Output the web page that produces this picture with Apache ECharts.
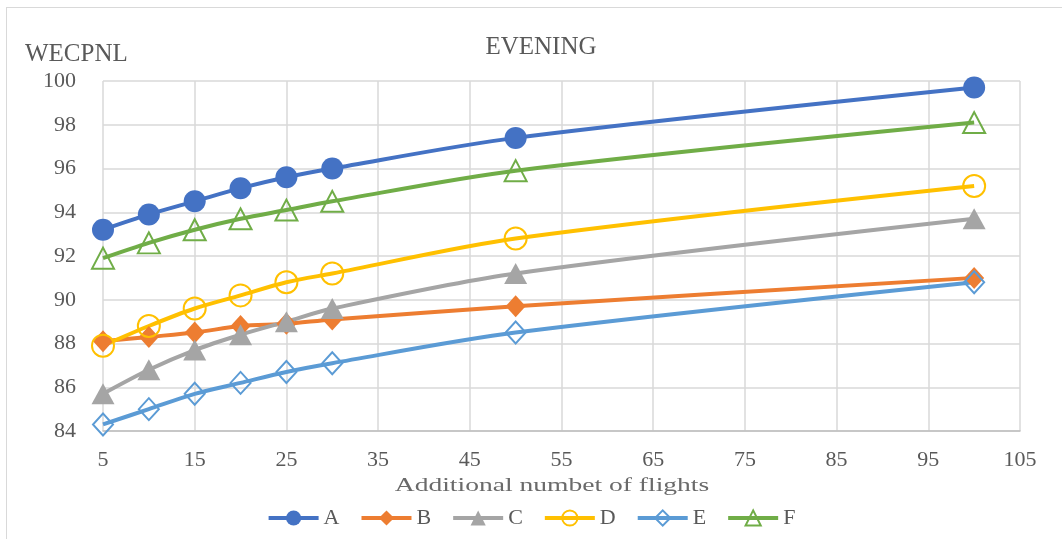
<!DOCTYPE html>
<html>
<head>
<meta charset="utf-8">
<script src="https://cdn.jsdelivr.net/npm/echarts@6/dist/echarts.min.js"></script>
<style>
  html, body { margin: 0; padding: 0; background: #fff; }
  #frame { position: absolute; left: 6px; top: 7px; width: 1100px; height: 600px; border-left: 1.5px solid #d9d9d9; border-top: 1.5px solid #d9d9d9; }
  #chart { position: absolute; left: 0; top: 0; width: 1062px; height: 539px; }
</style>
</head>
<body>
<div id="frame"></div>
<div id="chart"></div>
<script>
// Additional number of flights (x) and WECPNL noise level per scenario
const flights = [5, 10, 15, 20, 25, 30, 50, 100];
const seriesA = [93.2, 93.9, 94.5, 95.1, 95.6, 96.0, 97.4, 99.7];
const seriesB = [88.1, 88.3, 88.5, 88.8, 88.9, 89.1, 89.7, 91.0];
const seriesC = [85.7, 86.8, 87.7, 88.4, 89.0, 89.6, 91.2, 93.7];
const seriesD = [87.9, 88.8, 89.6, 90.2, 90.8, 91.2, 92.8, 95.2];
const seriesE = [84.3, 85.0, 85.7, 86.2, 86.7, 87.1, 88.5, 90.8];
const seriesF = [91.9, 92.6, 93.2, 93.7, 94.1, 94.5, 95.9, 98.1];

const names = ['A', 'B', 'C', 'D', 'E', 'F'];
const values = [seriesA, seriesB, seriesC, seriesD, seriesE, seriesF];
const colors = ['#4472C4', '#ED7D31', '#A5A5A5', '#FFC000', '#5B9BD5', '#70AD47'];
const symbols = ['circle', 'diamond', 'triangle', 'circle', 'diamond', 'triangle'];
const hollow = [false, false, false, true, true, true];
const sizes = [22, [20, 22], [23, 21], 22, [20, 22], [22, 21]];

const serif = "'Liberation Serif', 'Times New Roman', serif";

const chart = echarts.init(document.getElementById('chart'), null, { renderer: 'canvas' });

const series = names.map((n, i) => ({
  name: n,
  type: 'line',
  smooth: 0.3,
  data: flights.map((x, k) => [x, values[i][k]]),
  symbol: symbols[i],
  symbolSize: sizes[i],
  lineStyle: { color: colors[i], width: 4 },
  itemStyle: hollow[i]
    ? { color: 'rgba(255,255,255,0)', borderColor: colors[i], borderWidth: 2 }
    : { color: colors[i], borderWidth: 0 },
  emphasis: { disabled: true },
  animation: false
}));

chart.setOption({
  animation: false,
  textStyle: { fontFamily: serif },
  title: [
    { text: 'EVENING', left: 536, top: 30, textAlign: 'center',
      textStyle: { fontFamily: serif, fontSize: 25, fontWeight: 'normal', color: '#595959' } },
    { text: 'WECPNL', left: 20, top: 37,
      textStyle: { fontFamily: serif, fontSize: 25, fontWeight: 'normal', color: '#595959' } }
  ],
  // x-axis title, drawn in a horizontally stretched serif face
  graphic: [{
    type: 'text',
    x: 552,
    y: 486,
    scaleX: 1.45,
    silent: true,
    style: {
      text: 'Additional numbet of flights',
      font: "19px 'Liberation Serif', serif",
      fill: '#6a6a6a',
      align: 'center',
      verticalAlign: 'middle'
    }
  }],
  legend: {
    bottom: 5,
    left: 'center',
    itemWidth: 50,
    itemHeight: 19,
    itemGap: 20,
    lineStyle: { width: 4 },
    textStyle: { fontFamily: serif, fontSize: 22, color: '#595959' },
    data: names
  },
  grid: { left: 103, right: 42, top: 81, bottom: 108, containLabel: false },
  xAxis: {
    type: 'value',
    min: 5,
    max: 105,
    interval: 10,
    axisLine: { show: true, lineStyle: { color: '#bfbfbf', width: 1.5 } },
    axisTick: { show: false },
    axisLabel: { fontFamily: serif, fontSize: 22, color: '#595959', margin: 18 },
    splitLine: { show: true, lineStyle: { color: '#d9d9d9', width: 1.5 } }
  },
  yAxis: {
    type: 'value',
    min: 84,
    max: 100,
    interval: 2,
    axisLine: { show: false },
    axisTick: { show: false },
    axisLabel: { fontFamily: serif, fontSize: 22, color: '#595959', margin: 27 },
    splitLine: { show: true, lineStyle: { color: '#d9d9d9', width: 1.5 } }
  },
  series: series
});
</script>
</body>
</html>
